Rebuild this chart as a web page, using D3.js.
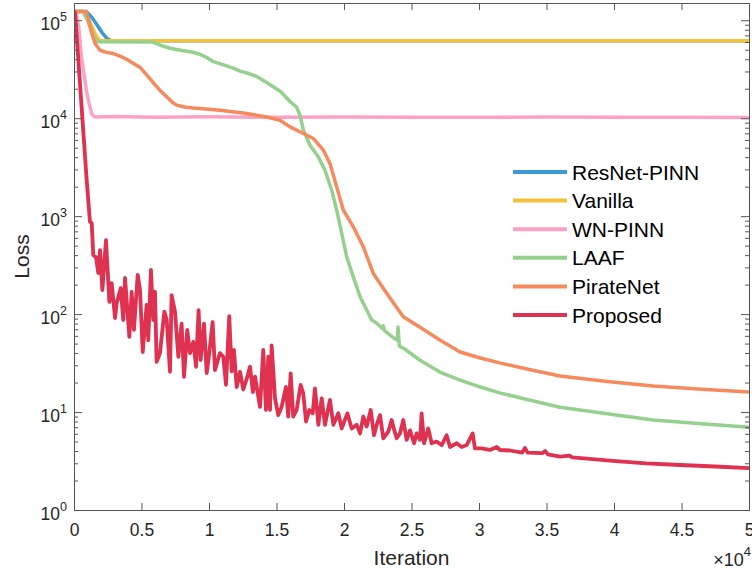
<!DOCTYPE html>
<html>
<head>
<meta charset="utf-8">
<script src="https://cdn.jsdelivr.net/npm/d3@7"></script>
<style>
  body { margin: 0; background: #fff; }
  svg { display: block; font-family: "Liberation Sans", Arial, Helvetica, sans-serif; }
</style>
</head>
<body>
<div id="chart-area"></div>
<script>
// tick values / labels
var iterTicks = [0, 5000, 10000, 15000, 20000, 25000, 30000, 35000, 40000, 45000, 50000];
var iterTickLabels = ["0", "0.5", "1", "1.5", "2", "2.5", "3", "3.5", "4", "4.5", "5"];
var lossExponents = [0, 1, 2, 3, 4, 5];

var seriesNames = ["ResNet-PINN", "Vanilla", "WN-PINN", "LAAF", "PirateNet", "Proposed"];
var seriesColors = ["#3a9ad5", "#f4c13a", "#fca2c5", "#96d08e", "#f68a5c", "#df3150"];

// [iteration, loss]
var resnetPinn = [[0,123000],[900,123000],[1300,108000],[1700,90000],[2100,74000],[2450,65000],[2750,61600],[50000,61600]];

var vanilla = [[0,123000],[700,123000],[1000,108000],[1300,88000],[1550,74000],[1800,64000],[2000,61600],[50000,61600]];

var wnPinn = [[0,123000],[150,122000],[350,85000],[550,42000],[750,28000],[950,18000],[1150,13500],[1350,10800],[1550,10300],
  [3000,10400],[6000,10250],[10000,10350],[15000,10200],[20000,10300],[25000,10250],[30000,10200],[35000,10300],
  [40000,10200],[45000,10250],[50000,10150]];

var laaf = [[0,123000],[650,123000],[1000,100000],[1400,73000],[1600,63000],[1800,60300],[5800,60000],[6400,55600],
  [7100,51800],[7900,49400],[8800,47100],[9300,45000],[9800,41900],[10300,38000],[10800,36000],[11800,32400],
  [12300,30200],[13000,28400],[13500,26800],[14300,23000],[15300,18700],[16000,14800],[16490,13000],[16740,10700],
  [16990,7550],[17480,5300],[18100,4030],[18590,2940],[19090,1840],[19460,1150],[19830,666],[20200,384],[20690,240],
  [21190,150],[21680,110],[22050,87],[22400,81],[22800,72],[22900,76],[23000,68],[23700,57],[23950,54],[24000,74],
  [24100,47],[24500,44],[25600,34],[27100,25.6],[28600,21.2],[30100,18],[31600,15.6],[33800,13.2],[36000,11.2],
  [39500,9.6],[42900,8.3],[46500,7.6],[50000,7.0]];

var pirateNet = [[0,123000],[900,123000],[1100,98000],[1310,73600],[1560,57800],[1930,49400],[2400,47000],[2910,45700],
  [3500,42500],[4020,39000],[4500,35500],[4900,33000],[5400,27500],[5900,22800],[6400,19000],[6900,16400],[7300,14500],
  [7600,13600],[8200,13000],[8800,12700],[9330,12560],[10810,12070],[12540,11320],[14270,10300],[15260,9540],
  [16000,8150],[16990,6980],[17730,6210],[18470,4710],[18960,3450],[19460,1990],[19950,1150],[20690,778],[21430,486],
  [22170,260],[23160,163],[24390,94],[25600,73.7],[27100,54.3],[28600,41],[30100,35.6],[31600,31.6],[33800,27],
  [36000,23.3],[39500,20.5],[42900,18.4],[46500,17.1],[50000,16.0]];

var proposed = [[0,123000],[80,118000],[940,2330],[1185,875],[1310,850],[1430,400],[1630,380],[1800,263],[1930,450],
  [2100,176],[2370,569],[2620,133],[2790,207],[3040,91],[3160,129],[3460,184],[3650,87],[3780,234],[4100,58.6],
  [4270,169],[4440,69],[4720,251],[4890,176],[5090,41],[5380,124],[5500,54],[5700,282],[5870,87],[6000,169],
  [6120,32.5],[6370,40],[6690,106],[6870,87],[7110,25.8],[7230,156],[7480,106],[7730,36.7],[7970,80],[8150,22.9],
  [8390,69],[8590,40],[8840,52],[9040,29],[9230,110],[9380,34],[9630,80],[9830,25],[10020,40],[10270,83],[10440,26.8],
  [10810,40],[11060,36.7],[11260,19],[11500,95.5],[11680,26],[11850,43],[12050,18],[12300,25.8],[12540,17],[12800,22],
  [13040,29],[13250,16],[13410,23],[13780,11.3],[14020,43],[14220,10.5],[14390,36.7],[14520,10.5],[14640,48],
  [14890,13.8],[15130,9.3],[15380,11.3],[15700,18.1],[15870,9.0],[16050,24.8],[16240,9.0],[16490,10.5],[16790,18.9],
  [16980,15.5],[17190,8.0],[17430,10.5],[17680,9.7],[17850,17.4],[18100,7.4],[18350,13.8],[18590,7.4],[18960,13.3],
  [19210,7.4],[19580,9.7],[19830,6.8],[20250,9.7],[20570,6.8],[20940,7.4],[21190,6.05],[21430,9.0],[21680,7.1],
  [21980,10.5],[22220,5.8],[22420,7.4],[22670,9.3],[22910,5.4],[23280,6.3],[23530,8.3],[23650,7.1],[23900,5.4],
  [24150,6.05],[24390,8.3],[24640,5.2],[24890,6.5],[25190,4.8],[25380,6.05],[25630,5.2],[25750,9.7],[25930,4.8],
  [26240,6.8],[26490,4.8],[26860,5.0],[27240,4.6],[27600,5.8],[27850,4.4],[28350,4.8],[28720,4.4],[29090,4.6],
  [29530,6.05],[29700,4.26],[30200,4.26],[30810,4.1],[31310,4.4],[31560,4.1],[32300,4.05],[33200,3.85],[33400,4.3],
  [33600,3.85],[34700,3.8],[34900,4.0],[35100,3.7],[36000,3.5],[36700,3.6],[36900,3.45],[38000,3.35],[39900,3.18],
  [42400,2.99],[44900,2.88],[47500,2.78],[50000,2.68]];

var allSeries = [resnetPinn, vanilla, wnPinn, laaf, pirateNet, proposed];

var W = 752, H = 574;
var margin = { left: 74, right: 3, top: 3, bottom: 64 };
var width = W - margin.left - margin.right;
var height = H - margin.top - margin.bottom;
var textColor = "#262626";
var axisColor = "#555";

var svg = d3.select("#chart-area")
  .append("svg")
  .attr("width", W)
  .attr("height", H);

var g = svg.append("g")
  .attr("transform", `translate(${margin.left}, ${margin.top})`);

var x = d3.scaleLinear().domain([0, 50000]).range([0, width]);
var y = d3.scaleLog().domain([1, 1.5e5]).range([height, 0]);

g.append("clipPath").attr("id", "plot-clip")
  .append("rect").attr("width", width).attr("height", height);

// lines
var line = d3.line()
  .x(d => x(d[0]))
  .y(d => y(d[1]));

g.append("g")
  .attr("clip-path", "url(#plot-clip)")
  .selectAll("path")
  .data(allSeries)
  .enter()
  .append("path")
  .attr("d", line)
  .attr("fill", "none")
  .attr("stroke", (d, i) => seriesColors[i])
  .attr("stroke-width", (d, i) => i === 5 ? 3.8 : 3.5)
  .attr("stroke-linejoin", "round")
  .attr("stroke-linecap", "round");

// axes (ticks pointing inwards)
var majorY = lossExponents.map(e => Math.pow(10, e));
var minorY = y.ticks().filter(v => majorY.indexOf(v) < 0);

function styleAxis(sel) {
  sel.select(".domain").remove();
  sel.selectAll(".tick line").attr("stroke", axisColor);
}

g.append("g").attr("transform", `translate(0, ${height})`)
  .call(d3.axisBottom(x).tickValues(iterTicks).tickSizeInner(-7).tickSizeOuter(0)
    .tickPadding(13.5).tickFormat((d, i) => iterTickLabels[i]))
  .call(styleAxis)
  .call(s => s.selectAll("text").attr("fill", textColor).attr("font-size", "17.5px")
    .attr("font-family", "'Liberation Sans', Arial, sans-serif"));

g.append("g")
  .call(d3.axisTop(x).tickValues(iterTicks).tickSizeInner(-7).tickSizeOuter(0).tickFormat(""))
  .call(styleAxis);

[[d3.axisLeft, 0], [d3.axisRight, width]].forEach(function (a) {
  g.append("g").attr("transform", `translate(${a[1]}, 0)`)
    .call(a[0](y).tickValues(majorY).tickSizeInner(-8).tickSizeOuter(0).tickFormat(""))
    .call(styleAxis);
  g.append("g").attr("transform", `translate(${a[1]}, 0)`)
    .call(a[0](y).tickValues(minorY).tickSizeInner(-4).tickSizeOuter(0).tickFormat(""))
    .call(styleAxis);
});

// box
g.append("rect")
  .attr("x", 0.5).attr("y", 0.5)
  .attr("width", width).attr("height", height)
  .attr("fill", "none")
  .attr("stroke", axisColor)
  .attr("stroke-width", 1);

// y tick labels 10^n
var yLabels = g.selectAll(".ylab")
  .data(lossExponents)
  .enter()
  .append("text")
  .attr("class", "ylab")
  .attr("x", -7)
  .attr("y", d => y(Math.pow(10, d)) + 10)
  .attr("text-anchor", "end")
  .attr("fill", textColor)
  .attr("font-size", "17.5px");
yLabels.append("tspan").text("10");
yLabels.append("tspan").attr("dy", -9).attr("font-size", "12.5px").text(d => d);

// axis labels
g.append("text")
  .attr("x", width / 2)
  .attr("y", height + 55)
  .attr("text-anchor", "middle")
  .attr("font-size", "21px")
  .attr("fill", textColor)
  .text("Iteration");

g.append("text")
  .attr("transform", `translate(${28.5 - margin.left}, ${height / 2}) rotate(-90)`)
  .attr("text-anchor", "middle")
  .attr("font-size", "21px")
  .attr("fill", textColor)
  .text("Loss");

// x10^4 exponent label
var expLabel = g.append("text")
  .attr("x", width + 2)
  .attr("y", height + 56)
  .attr("text-anchor", "end")
  .attr("font-size", "18px")
  .attr("fill", textColor);
expLabel.append("tspan").text("\u00d710");
expLabel.append("tspan").attr("dy", -10).attr("font-size", "13px").text("4");

// legend
var legend = g.append("g")
  .attr("transform", `translate(${513 - margin.left}, ${172 - margin.top})`);

var rows = legend.selectAll("g")
  .data(seriesNames)
  .enter()
  .append("g")
  .attr("transform", (d, i) => `translate(0, ${i * 28.6})`);

rows.append("line")
  .attr("x1", 0).attr("x2", 54)
  .attr("stroke", (d, i) => seriesColors[i])
  .attr("stroke-width", 4);

rows.append("text")
  .attr("x", 59)
  .attr("y", 7.5)
  .attr("font-size", "21px")
  .attr("fill", "#000")
  .text(d => d);
</script>
</body>
</html>
